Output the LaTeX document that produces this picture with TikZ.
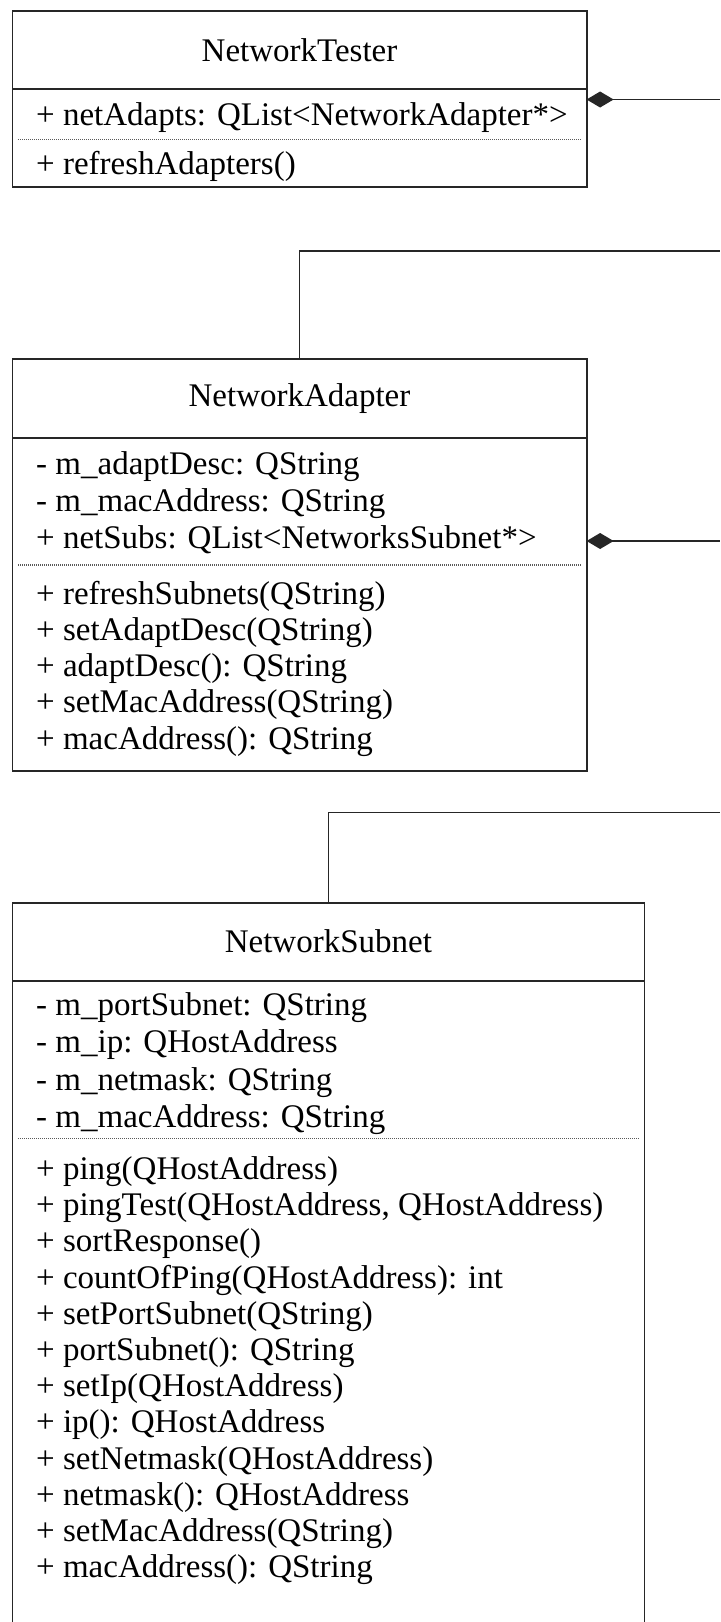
\documentclass[tikz,border=0pt]{standalone}
\usepackage{fontspec}
\setmainfont{Liberation Serif}
\usetikzlibrary{arrows.meta}
\begin{document}
\begin{tikzpicture}[x=1pt,y=-1pt,
  classbox/.style={draw=black!85, line width=1.8pt, rectangle, inner sep=0pt, outer sep=0pt, anchor=north west},
  sepline/.style={draw=black!85, line width=1.8pt},
  dotsep/.style={draw=black!65, line width=1.1pt, dash pattern=on 1pt off 1pt},
  classname/.style={font=\fontsize{33}{36.2}\selectfont, inner sep=0pt},
  member/.style={font=\fontsize{33}{36.2}\selectfont, inner sep=0pt, anchor=base west},
  link/.style={draw=black!85, line width=1.8pt},
  compose/.style={link, {Diamond[length=27pt,width=16pt]}-}
]
% page
\fill[white] (0,0) rectangle (720,1622);
\clip (0,0) rectangle (720,1622);

% free ends of the associations at the right border
\coordinate (tester-end) at (720,99.5);
\coordinate (adapter-end) at (720,541);
\coordinate (adapter-turn) at (720,251);
\coordinate (subnet-turn) at (720,812.5);

% ---------------- NetworkTester ----------------
\node[classbox, minimum width=574.2pt, minimum height=176.6pt] (tester) at (12.4,10.7) {};
\node[classname] (tester-name) at (299.5,50) {NetworkTester};
\draw[sepline] ([yshift=-78.6pt]tester.north west) -- ([yshift=-78.6pt]tester.north east);
\draw[dotsep] ([xshift=6pt,yshift=-128.6pt]tester.north west) -- ([xshift=-6pt,yshift=-128.6pt]tester.north east);
\node[member] (tester-a0) at (36,125.2) {+ netAdapts: QList<NetworkAdapter*>};
\node[member] (tester-o0) at (36,174.3) {+ refreshAdapters()};

% ---------------- NetworkAdapter ----------------
\node[classbox, minimum width=574.2pt, minimum height=411.7pt] (adapter) at (12.4,359.3) {};
\node[classname] (adapter-name) at (299.5,398.5) {NetworkAdapter};
\draw[sepline] ([yshift=-78.4pt]adapter.north west) -- ([yshift=-78.4pt]adapter.north east);
\draw[dotsep] ([xshift=6pt,yshift=-205.7pt]adapter.north west) -- ([xshift=-6pt,yshift=-205.7pt]adapter.north east);
\foreach \t [count=\i from 0] in {{- m\_adaptDesc: QString},{- m\_macAddress: QString},{+ netSubs: QList<NetworksSubnet*>}}
  \node[member] (adapter-a\i) at (36,474+\i*37.2) {\t};
\foreach \t [count=\i from 0] in {{+ refreshSubnets(QString)},{+ setAdaptDesc(QString)},{+ adaptDesc(): QString},{+ setMacAddress(QString)},{+ macAddress(): QString}}
  \node[member] (adapter-o\i) at (36,604.3+\i*36.2) {\t};

% ---------------- NetworkSubnet ----------------
\node[classbox, minimum width=632.1pt, minimum height=800pt] (subnet) at (12.4,902.7) {};
\node[classname] (subnet-name) at (328.4,941.7) {NetworkSubnet};
\draw[sepline] ([yshift=-78pt]subnet.north west) -- ([yshift=-78pt]subnet.north east);
\draw[dotsep] ([xshift=6pt,yshift=-236.1pt]subnet.north west) -- ([xshift=-6pt,yshift=-236.1pt]subnet.north east);
\foreach \t [count=\i from 0] in {{- m\_portSubnet: QString},{- m\_ip: QHostAddress},{- m\_netmask: QString},{- m\_macAddress: QString}}
  \node[member] (subnet-a\i) at (36,1015+\i*37.5) {\t};
\foreach \t [count=\i from 0] in {{+ ping(QHostAddress)},{+ pingTest(QHostAddress, QHostAddress)},{+ sortResponse()},{+ countOfPing(QHostAddress): int},{+ setPortSubnet(QString)},{+ portSubnet(): QString},{+ setIp(QHostAddress)},{+ ip(): QHostAddress},{+ setNetmask(QHostAddress)},{+ netmask(): QHostAddress},{+ setMacAddress(QString)},{+ macAddress(): QString}}
  \node[member] (subnet-o\i) at (36,1179.5+\i*36.2) {\t};

% ---------------- associations ----------------
\draw[compose] ([yshift=-88.8pt]tester.north east) -- (tester-end);
\draw[compose] ([yshift=-181.7pt]adapter.north east) -- (adapter-end);
\draw[link] (adapter.north) |- (adapter-turn);
\draw[link] (subnet.north) |- (subnet-turn);
\end{tikzpicture}
\end{document}
